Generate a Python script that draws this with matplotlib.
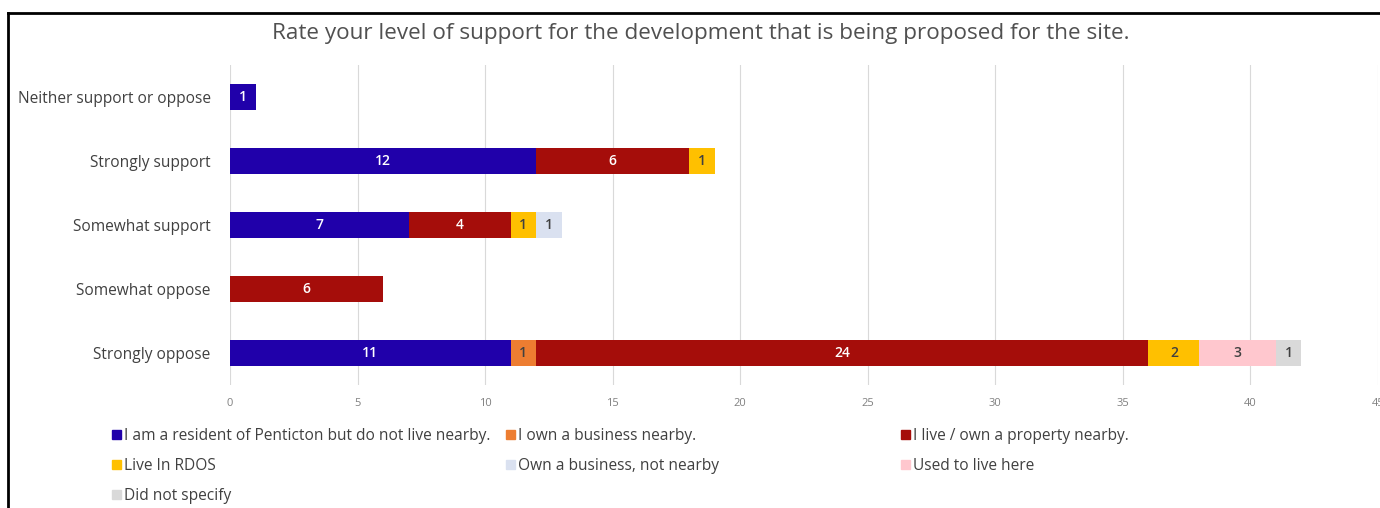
import numpy as np
import matplotlib
matplotlib.use('Agg')
import matplotlib.pyplot as plt
from matplotlib.patches import Patch
from matplotlib.lines import Line2D

plt.rcParams['font.family'] = ['Open Sans', 'DejaVu Sans']

categories = ['Neither support or oppose', 'Strongly support', 'Somewhat support',
              'Somewhat oppose', 'Strongly oppose']
series_names = ['I am a resident of Penticton but do not live nearby.',
                'I own a business nearby.',
                'I live / own a property nearby.',
                'Live In RDOS',
                'Own a business, not nearby',
                'Used to live here',
                'Did not specify']
resident = [1, 12, 7, 0, 11]
business_nearby = [0, 0, 0, 0, 1]
property_nearby = [0, 6, 4, 6, 24]
live_rdos = [0, 1, 1, 0, 2]
business_not_nearby = [0, 0, 1, 0, 0]
used_to_live = [0, 0, 0, 0, 3]
not_specified = [0, 0, 0, 0, 1]
x_ticks = [0, 5, 10, 15, 20, 25, 30, 35, 40, 45]

series = [resident, business_nearby, property_nearby, live_rdos,
          business_not_nearby, used_to_live, not_specified]
colors = ['#2000aa', '#ed7d31', '#a50d0a', '#ffc000', '#dae1f0', '#ffc7ce', '#d9d9d9']
label_colors = ['white', '#404040', 'white', '#404040', '#404040', '#404040', '#404040']

fig = plt.figure(figsize=(13.8, 5.08), dpi=100)
ax = fig.add_axes([230 / 1380, 1 - 385 / 508, 1148 / 1380, 320 / 508])

y = np.arange(len(categories))
left = np.zeros(len(categories))
for vals, col, tcol, name in zip(series, colors, label_colors, series_names):
    vals = np.array(vals, dtype=float)
    ax.barh(y, vals, left=left, height=0.4, color=col, label=name, zorder=3)
    for yi, v, l in zip(y, vals, left):
        if v > 0:
            ax.text(l + v / 2, yi, '%d' % v, ha='center', va='center',
                    color=tcol, fontsize=10, fontweight='semibold', zorder=4)
    left += vals

ax.set_xlim(0, 45)
ax.set_ylim(-0.5, len(categories) - 0.5)
ax.invert_yaxis()
ax.set_xticks(x_ticks)
ax.set_yticks(y)
ax.set_yticklabels(categories, fontsize=11.2, color='#404040')
ax.tick_params(axis='x', length=0, pad=9, labelsize=8, labelcolor='#808080')
ax.tick_params(axis='y', length=0, pad=14)
ax.grid(axis='x', color='#d9d9d9', linewidth=0.8, zorder=0)
for s in ax.spines.values():
    s.set_visible(False)

fig.text(701 / 1380, 1 - 33 / 508, 'Rate your level of support for the development that is being proposed for the site.',
         ha='center', va='center', fontsize=16.2, color='#505050')

# legend, three fixed columns laid out row by row
col_x = [112, 506, 901]
handles = [Patch(color=c) for c in colors]
for ci in range(3):
    idx = list(range(ci, len(series_names), 3))
    leg = fig.legend([handles[i] for i in idx], [series_names[i] for i in idx],
                     loc='upper left', bbox_to_anchor=(col_x[ci] / 1380, 1 - 428 / 508),
                     frameon=False, fontsize=11.2, handlelength=0.55, handleheight=0.55,
                     handletextpad=0.25, labelspacing=0.9, borderpad=0, borderaxespad=0)
    for t in leg.get_texts():
        t.set_color('#404040')

# frame lines
fig.add_artist(Line2D([8 / 1380, 1], [1 - 13 / 508, 1 - 13 / 508], color='black', lw=2))
fig.add_artist(Line2D([8 / 1380, 8 / 1380], [0, 1 - 13 / 508], color='black', lw=2))

fig.savefig('out.png', dpi=100)
